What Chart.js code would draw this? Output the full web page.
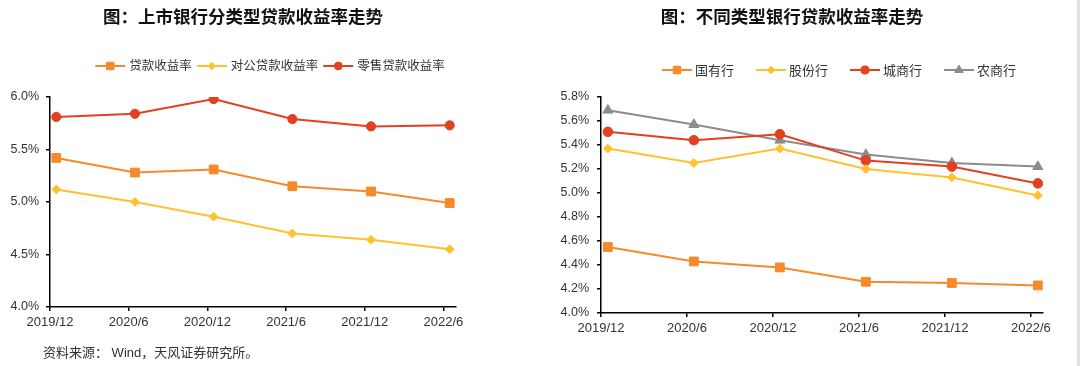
<!DOCTYPE html>
<html>
<head>
<meta charset="utf-8">
<script src="https://cdn.jsdelivr.net/npm/chart.js@4/dist/chart.umd.min.js"></script>
<style>
  html, body { margin: 0; padding: 0; background: #fff; }
  body { width: 1080px; height: 366px; position: relative; overflow: hidden;
         font-family: "Liberation Sans", "Noto Sans CJK SC", sans-serif; }
  .box { position: absolute; top: 0; width: 540px; height: 366px; }
  .title { position: absolute; top: 3px; font-size: 17.5px; font-weight: bold; color: #111;
           font-family: "Noto Sans CJK SC", sans-serif; white-space: nowrap; transform: translateX(-50%); }
  .source { position: absolute; left: 43px; top: 342px; font-size: 13px; color: #333; white-space: nowrap; }
  .edge { position: absolute; left: 1077px; top: 0; width: 3px; height: 366px; background: #e2e2e2; }
</style>
</head>
<body>
<div class="box" style="left:0"><canvas id="leftChart" width="540" height="366"></canvas></div>
<div class="box" style="left:540px"><canvas id="rightChart" width="540" height="366"></canvas></div>
<div class="title" style="left:243px">图：上市银行分类型贷款收益率走势</div>
<div class="title" style="left:792px">图：不同类型银行贷款收益率走势</div>
<div class="source">资料来源： Wind，天风证券研究所。</div>
<div class="edge"></div>

<script>
// 横轴日期
const periods = ['2019/12', '2020/6', '2020/12', '2021/6', '2021/12', '2022/6'];

// 左图：上市银行分类型贷款收益率 (%)
const loanYield = [5.42, 5.28, 5.31, 5.15, 5.10, 4.99];
const corpYield = [5.12, 5.00, 4.86, 4.70, 4.64, 4.55];
const retailYield = [5.81, 5.84, 5.98, 5.79, 5.72, 5.73];
const leftTicks = [4.0, 4.5, 5.0, 5.5, 6.0];

// 右图：不同类型银行贷款收益率 (%)
const stateOwned = [4.55, 4.43, 4.38, 4.26, 4.25, 4.23];
const jointStock = [5.37, 5.25, 5.37, 5.20, 5.13, 4.98];
const cityComm = [5.51, 5.44, 5.49, 5.27, 5.22, 5.08];
const ruralComm = [5.69, 5.57, 5.44, 5.32, 5.25, 5.22];
const rightTicks = [4.0, 4.2, 4.4, 4.6, 4.8, 5.0, 5.2, 5.4, 5.6, 5.8];

const ORANGE = '#f68a2a';
const YELLOW = '#ffc12e';
const RED = '#e2411f';
const GRAY = '#8c8c8c';
const FONT = '"Liberation Sans", "Noto Sans CJK SC", sans-serif';

Chart.defaults.animation = false;
Chart.defaults.font.family = FONT;
Chart.defaults.color = '#333';

// 图例：线段 + 标记 + 文字
const lineLegend = {
    id: 'lineLegend',
    afterDraw(chart, args, opts) {
        const ctx = chart.ctx;
        const sets = chart.data.datasets;
        ctx.save();
        ctx.font = opts.fontSize + 'px ' + FONT;
        const widths = sets.map(ds => opts.lineLen + opts.textGap + ctx.measureText(ds.label).width);
        const total = widths.reduce((a, b) => a + b, 0) + opts.itemGap * (sets.length - 1);
        let x = opts.centerX - total / 2;
        sets.forEach((ds, i) => {
            ctx.strokeStyle = ds.borderColor;
            ctx.lineWidth = 2;
            ctx.beginPath();
            ctx.moveTo(x, opts.y);
            ctx.lineTo(x + opts.lineLen, opts.y);
            ctx.stroke();
            ctx.fillStyle = ds.borderColor;
            ctx.lineWidth = 1;
            Chart.helpers.drawPoint(ctx, {
                pointStyle: ds.pointStyle, radius: ds.pointRadius * 0.85, borderWidth: 1, rotation: 0
            }, x + opts.lineLen / 2, opts.y);
            ctx.fillStyle = '#333';
            ctx.textBaseline = 'middle';
            ctx.textAlign = 'left';
            ctx.fillText(ds.label, x + opts.lineLen + opts.textGap, opts.y + 1);
            x += widths[i] + opts.itemGap;
        });
        ctx.restore();
    }
};

function series(label, values, color, style, radius) {
    return {
        label: label,
        data: values.map((v, i) => ({ x: i, y: v })),
        borderColor: color,
        backgroundColor: color,
        pointBackgroundColor: color,
        pointBorderColor: color,
        borderWidth: 2,
        pointStyle: style,
        pointRadius: radius,
        pointBorderWidth: 1,
        tension: 0
    };
}

function makeOptions(yTicks, cfg) {
    return {
        responsive: false,
        layout: { padding: cfg.padding },
        plugins: {
            legend: { display: false },
            tooltip: { enabled: false },
            lineLegend: cfg.legend
        },
        scales: {
            x: {
                type: 'linear',
                min: -cfg.lead,
                max: periods.length - 1 + cfg.tail,
                afterBuildTicks: s => { s.ticks = periods.map((p, i) => ({ value: i - cfg.lead })); },
                afterFit: s => { s.height = 24; },
                ticks: {
                    autoSkip: false, maxRotation: 0, padding: 4,
                    font: { size: 13 }, color: '#333',
                    callback: (v, i) => periods[i]
                },
                grid: { drawOnChartArea: false, drawTicks: true, tickLength: 4, color: '#000', lineWidth: 1.5 },
                border: { display: true, color: '#000', width: 1.5 }
            },
            y: {
                min: yTicks[0],
                max: yTicks[yTicks.length - 1],
                afterBuildTicks: s => { s.ticks = yTicks.map(v => ({ value: v })); },
                afterFit: s => { s.width = cfg.yWidth; },
                ticks: {
                    padding: cfg.yPad, font: { size: 12.5 }, color: '#333',
                    callback: v => v.toFixed(1) + '%'
                },
                grid: { drawOnChartArea: false, drawTicks: true, tickLength: 4, color: '#000', lineWidth: 1.5 },
                border: { display: true, color: '#000', width: 1.5 }
            }
        }
    };
}

new Chart(document.getElementById('leftChart'), {
    type: 'line',
    data: {
        datasets: [
            series('贷款收益率', loanYield, ORANGE, 'rect', 6.2),
            series('对公贷款收益率', corpYield, YELLOW, 'rectRot', 4.4),
            series('零售贷款收益率', retailYield, RED, 'circle', 4.6)
        ]
    },
    options: makeOptions(leftTicks, {
        padding: { top: 97, bottom: 35, left: 0, right: 84 },
        lead: 0.08, tail: 0.08, yWidth: 50, yPad: 7,
        legend: { centerX: 270, y: 66, lineLen: 30, textGap: 4, itemGap: 5, fontSize: 12.5 }
    }),
    plugins: [lineLegend]
});

new Chart(document.getElementById('rightChart'), {
    type: 'line',
    data: {
        datasets: [
            series('国有行', stateOwned, ORANGE, 'rect', 6.2),
            series('股份行', jointStock, YELLOW, 'rectRot', 4.4),
            series('城商行', cityComm, RED, 'circle', 4.8),
            series('农商行', ruralComm, GRAY, 'triangle', 5.8)
        ]
    },
    options: makeOptions(rightTicks, {
        padding: { top: 97, bottom: 29, left: 0, right: 37 },
        lead: 0.08, tail: 0.06, yWidth: 61, yPad: 8,
        legend: { centerX: 299, y: 70, lineLen: 30, textGap: 3, itemGap: 22, fontSize: 13 }
    }),
    plugins: [lineLegend]
});
</script>
</body>
</html>
